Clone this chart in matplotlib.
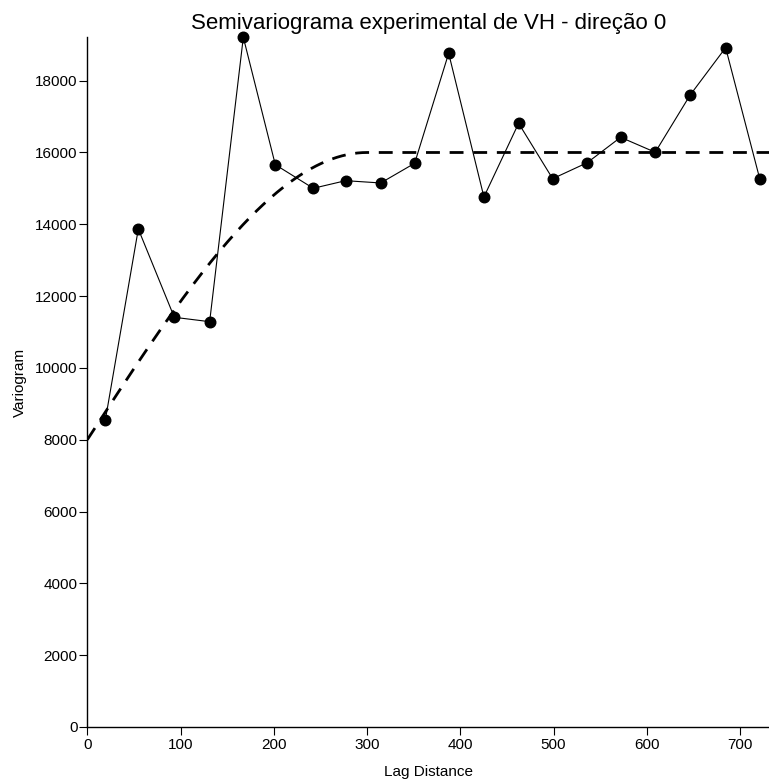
import numpy as np
import matplotlib
matplotlib.use("Agg")
import matplotlib.pyplot as plt

plt.rcParams['font.family'] = ['Liberation Sans', 'DejaVu Sans']

# Experimental semivariogram
lags = [19.3, 54.7, 93.3, 131.2, 167.3, 201.6, 242.3, 277.0, 314.6, 351.0,
        387.5, 425.3, 462.5, 499.0, 536.1, 571.9, 609.0, 646.5, 684.5, 721.2]
gamma = [8542, 13869, 11410, 11288, 19208, 15660, 15003, 15215, 15151, 15699,
         18763, 14761, 16813, 15270, 15716, 16423, 16006, 17602, 18919, 15254]

# Fitted spherical model
nugget = 8000
sill = 16000
model_range = 300

xmax = 731
ymax = max(gamma)

h = np.linspace(0, xmax, 400)
r = np.clip(h / model_range, 0, 1)
model = nugget + (sill - nugget) * (1.5 * r - 0.5 * r ** 3)

fig = plt.figure(figsize=(7.69, 7.83), dpi=100)
ax = fig.add_axes([87.3 / 769, 1 - 727 / 783, 1 - 87.3 / 769, (727 - 37.3) / 783])

ax.plot(h, model, color='black', lw=2.0, linestyle=(0, (5.0, 3.5)), zorder=2)
ax.plot(lags, gamma, color='black', lw=0.8, marker='o', markersize=7.6, zorder=3,
        clip_on=False)

ax.set_xlim(0, xmax)
ax.set_ylim(0, ymax)
ax.set_xticks(np.arange(0, 701, 100))
ax.set_yticks(np.arange(0, 18001, 2000))

for s in ['top', 'right']:
    ax.spines[s].set_visible(False)
for s in ['left', 'bottom']:
    ax.spines[s].set_linewidth(1.0)
    ax.spines[s].set_color('black')

ax.tick_params(axis='both', direction='out', length=6, width=0.8, labelsize=11,
               colors='black')
ax.tick_params(axis='y', pad=1)
ax.tick_params(axis='x', pad=2)

ax.set_xlabel('Lag Distance', fontsize=11, labelpad=9)
ax.set_ylabel('Variogram', fontsize=11, labelpad=6)
ax.set_title('Semivariograma experimental de VH - direção 0', fontsize=16, pad=6)

fig.savefig('out.png', dpi=100)
